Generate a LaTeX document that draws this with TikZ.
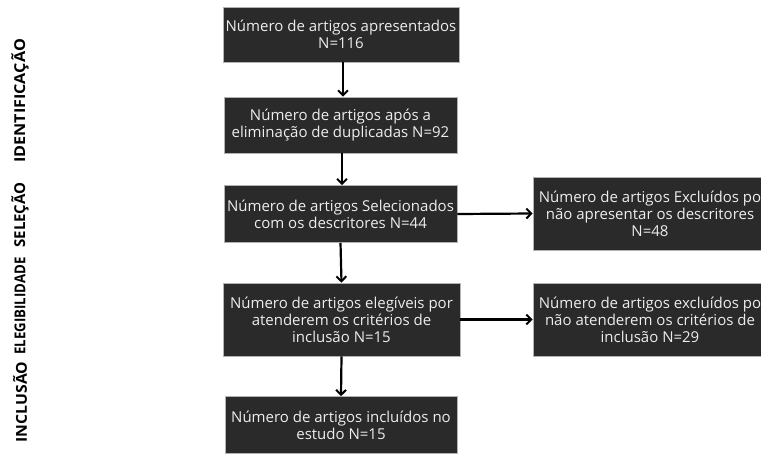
\documentclass[tikz,border=0pt]{standalone}
\usepackage{fontspec}
\setmainfont{Open Sans}
\usetikzlibrary{arrows.meta}
\definecolor{boxfill}{HTML}{2A2A2A}
\definecolor{boxtext}{HTML}{EDEDED}
\begin{document}
\begin{tikzpicture}[x=1pt,y=-1pt,
  fbox/.style={draw=gray!60, line width=0.6pt, fill=boxfill, text=boxtext, align=center,
    inner sep=0pt, font=\fontsize{15}{17}\selectfont},
  flow/.style={line width=2.2pt, -{Straight Barb[length=5pt,width=10pt,line width=2pt]}},
  phase/.style={rotate=90, font=\bfseries\fontsize{15}{17}\selectfont, text=black, inner sep=0pt}]
\useasboundingbox (0,0) rectangle (761,458);
\clip (0,0) rectangle (761,458);
\fill[white] (0,0) rectangle (761,458);
\node[fbox, minimum width=236pt, minimum height=55pt] (b1) at (341,34.5) {Número de artigos apresentados\\N=116};
\node[fbox, minimum width=233pt, minimum height=56pt] (b2) at (340.5,125) {Número de artigos após a\\eliminação de duplicadas N=92};
\node[fbox, minimum width=233pt, minimum height=57pt] (b3) at (340.5,214) {Número de artigos Selecionados\\com os descritores N=44};
\node[fbox, minimum width=237pt, minimum height=73pt] (b4) at (341.5,319.5) {Número de artigos elegíveis por\\atenderem os critérios de\\inclusão N=15};
\node[fbox, minimum width=232pt, minimum height=57pt] (b5) at (341,425) {Número de artigos incluídos no\\estudo N=15};
\node[fbox, minimum width=234pt, minimum height=73pt] (r3) at (650,213.5) {Número de artigos Excluídos po\\não apresentar os descritores\\N=48};
\node[fbox, minimum width=234pt, minimum height=73pt] (r4) at (650,319.5) {Número de artigos excluídos po\\não atenderem os critérios de\\inclusão N=29};
\draw[flow] (b1.south -| 343,0) -- (b2.north -| 343,0);
\draw[flow] (b2.south -| 342,0) -- (b3.north -| 342,0);
\draw[flow] (b3.south) -- (b4.north);
\draw[flow] (b4.south) -- (b5.north);
\draw[flow] (b3.east) -- (r3.west);
\draw[flow] (b4.east) -- (r4.west);
\node[phase] (p1) at (20,101) {\scalebox{1.08}[1]{IDENTIFICAÇÃO}};
\node[phase] (p2) at (20,215) {SELEÇÃO};
\node[phase] (p3) at (20,306) {\scalebox{0.88}[1]{ELEGIBILIDADE}};
\node[phase] (p4) at (20,402) {\scalebox{1.05}[1]{INCLUSÃO}};
\end{tikzpicture}
\end{document}
